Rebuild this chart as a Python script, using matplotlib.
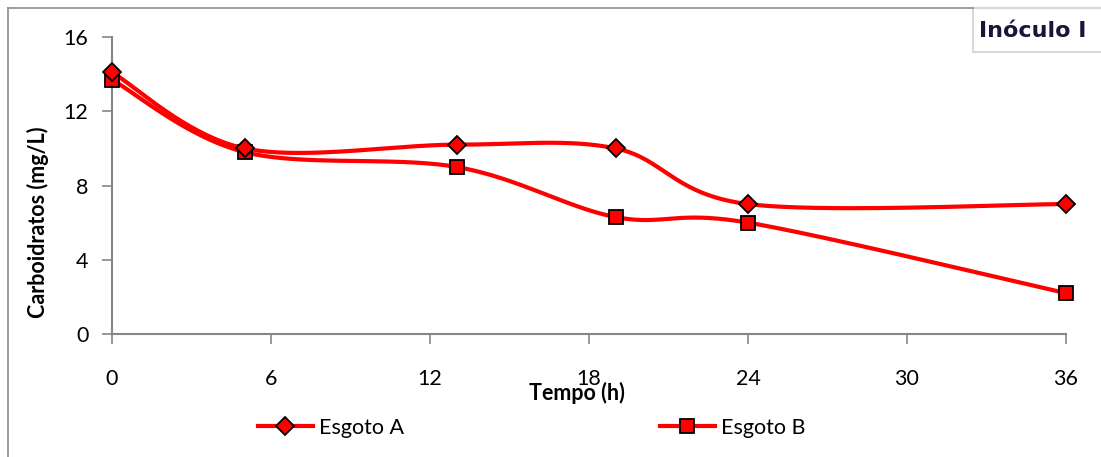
import numpy as np
import matplotlib
matplotlib.use("Agg")
import matplotlib.pyplot as plt
from matplotlib.lines import Line2D
from matplotlib.patches import Rectangle

# Sampling times (h) and carbohydrate concentrations (mg/L)
tempo = [0, 5, 13, 19, 24, 36]
esgoto_a = [14.1, 10.0, 10.2, 10.0, 7.0, 7.0]
esgoto_b = [13.7, 9.8, 9.0, 6.3, 6.0, 2.2]
x_ticks = [0, 6, 12, 18, 24, 30, 36]
y_ticks = [0, 4, 8, 12, 16]

plt.rcParams['font.family'] = ['Lato', 'DejaVu Sans']

RED = '#ff0000'
AXIS_GREY = '#868686'
W, H = 1101, 457


def smooth(xs, ys, n=40):
    """Catmull-Rom style cubic Bezier smoothing through every point."""
    p = np.column_stack([xs, ys]).astype(float)
    out = []
    for i in range(len(p) - 1):
        p0 = p[i - 1] if i > 0 else p[i]
        p1, p2 = p[i], p[i + 1]
        p3 = p[i + 2] if i + 2 < len(p) else p[i + 1]
        c1 = p1 + (p2 - p0) / 6.0
        c2 = p2 - (p3 - p1) / 6.0
        t = np.linspace(0, 1, n)[:, None]
        seg = ((1 - t) ** 3) * p1 + 3 * ((1 - t) ** 2) * t * c1 \
            + 3 * (1 - t) * t ** 2 * c2 + t ** 3 * p2
        out.append(seg if i == 0 else seg[1:])
    pts = np.vstack(out)
    return pts[:, 0], pts[:, 1]


fig = plt.figure(figsize=(W / 100, H / 100), dpi=100)
ax = fig.add_axes([112 / W, 1 - 334 / H, (1066 - 112) / W, (334 - 37) / H])

for ys, mk, ms in ((esgoto_b, 's', 10), (esgoto_a, 'D', 9.5)):
    sx, sy = smooth(tempo, ys)
    ax.plot(sx, sy, color=RED, lw=3, solid_capstyle='round', zorder=2)
    ax.plot(tempo, ys, ls='none', marker=mk, ms=ms, mfc=RED, mec='black',
            mew=1.3, zorder=3, clip_on=False)

ax.set_xlim(0, 36)
ax.set_ylim(0, 16)
ax.set_xticks(x_ticks)
ax.set_yticks(y_ticks)
ax.tick_params(axis='both', direction='out', length=7, width=1.2,
               color=AXIS_GREY, labelsize=15.5, labelcolor='black')
ax.tick_params(axis='y', pad=10)
ax.tick_params(axis='x', pad=18)
for side in ('top', 'right'):
    ax.spines[side].set_visible(False)
for side in ('left', 'bottom'):
    ax.spines[side].set_color(AXIS_GREY)
    ax.spines[side].set_linewidth(1.5)

fig.text(38 / W, 1 - 222 / H, 'Carboidratos (mg/L)', fontsize=15.5,
         fontweight='bold', rotation=90, ha='center', va='center')
fig.text(577 / W, 1 - 393 / H, 'Tempo (h)', fontsize=15.5, fontweight='bold',
         ha='center', va='center')

# Legend entries
h_a = Line2D([], [], color=RED, lw=3, marker='D', ms=9.5, mfc=RED, mec='black', mew=1.3)
h_b = Line2D([], [], color=RED, lw=3, marker='s', ms=10, mfc=RED, mec='black', mew=1.3)
for h, lab, x0 in ((h_a, 'Esgoto A', 258), (h_b, 'Esgoto B', 660)):
    fig.legend([h], [lab], loc='center left', bbox_to_anchor=(x0 / W, 1 - 428 / H),
               frameon=False, borderpad=0, borderaxespad=0, handlelength=2.55,
               handletextpad=0.3, fontsize=15.5)

# Chart-area border (top and left edges)
fig.add_artist(Line2D([8 / W, 973 / W], [1 - 8 / H, 1 - 8 / H],
                      transform=fig.transFigure, color='#8c8c8c', lw=1.2))
fig.add_artist(Line2D([8 / W, 8 / W], [1 - 8 / H, 0],
                      transform=fig.transFigure, color='#8c8c8c', lw=1.2))

# Panel caption box, running off the right edge
fig.add_artist(Rectangle((973 / W, 1 - 52 / H), 150 / W, 44 / H,
                         transform=fig.transFigure, fc='white', ec='#d3d9e3', lw=1.5))
fig.text(979 / W, 1 - 31 / H, 'Inóculo I', fontsize=16, fontweight='bold',
         family='DejaVu Sans', color='#16163a', ha='left', va='center')

fig.savefig('out.png', dpi=100)
